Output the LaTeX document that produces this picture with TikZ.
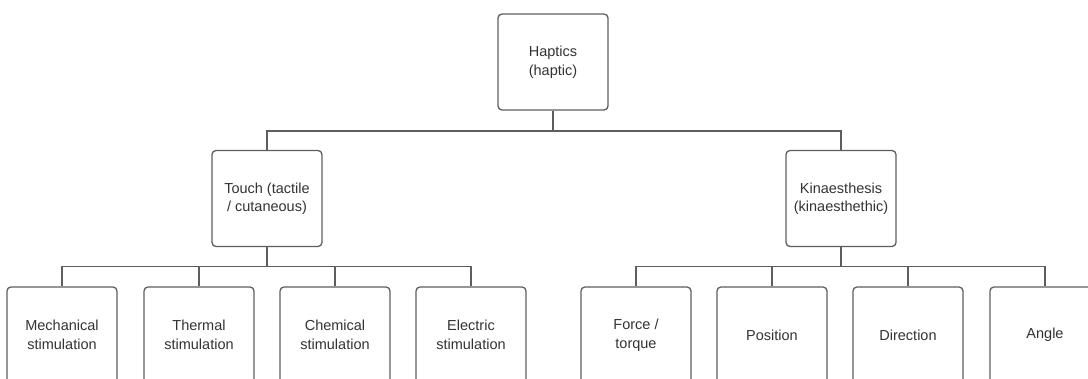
\documentclass[tikz,border=0pt]{standalone}
\usepackage{fontspec}
\setmainfont{Liberation Sans}
\definecolor{boxline}{HTML}{5E5E5E}
\definecolor{txt}{HTML}{333333}
\begin{document}
\begin{tikzpicture}[x=1pt,y=-1pt,
  box/.style={draw=boxline,line width=1.3pt,rounded corners=4pt,fill=white,
    minimum width=110pt,minimum height=96pt,inner sep=0pt,align=center,
    text=txt,font=\fontsize{14.5}{18.5}\selectfont},
  conn/.style={draw=boxline,line width=1.3pt}]
\useasboundingbox (0,0) rectangle (1088,378);
\clip (0,0) rectangle (1088,378);
% root
\node[box] (hap) at (553,62) {Haptics\\(haptic)};
% second level
\node[box] (touch) at (267,198.5) {Touch (tactile\\/ cutaneous)};
\node[box] (kin) at (841,198.5) {Kinaesthesis\\(kinaesthethic)};
% leaves under touch
\node[box] (mech) at (62,335) {Mechanical\\stimulation};
\node[box] (therm) at (199,335) {Thermal\\stimulation};
\node[box] (chem) at (335,335) {Chemical\\stimulation};
\node[box] (elec) at (471,335) {Electric\\stimulation};
% leaves under kinaesthesis
\node[box] (force) at (636,335) {Force /\\torque};
\node[box] (pos) at (772,335) {Position};
\node[box] (dir) at (908,335) {Direction};
\node[box] (angle) at (1045,335) {Angle};
% bus junctions
\coordinate (b0) at (553,131);
\coordinate (b1) at (267,266.5);
\coordinate (b2) at (841,266.5);
% connectors
\draw[conn] (hap.south) -- (b0);
\draw[conn] (touch.north) |- (b0) -| (kin.north);
\draw[conn] (touch.south) -- (b1);
\draw[conn] (mech.north) |- (b1) -| (elec.north);
\draw[conn] (therm.north) -- (therm.north |- b1);
\draw[conn] (chem.north) -- (chem.north |- b1);
\draw[conn] (kin.south) -- (b2);
\draw[conn] (force.north) |- (b2) -| (angle.north);
\draw[conn] (pos.north) -- (pos.north |- b2);
\draw[conn] (dir.north) -- (dir.north |- b2);
\end{tikzpicture}
\end{document}
